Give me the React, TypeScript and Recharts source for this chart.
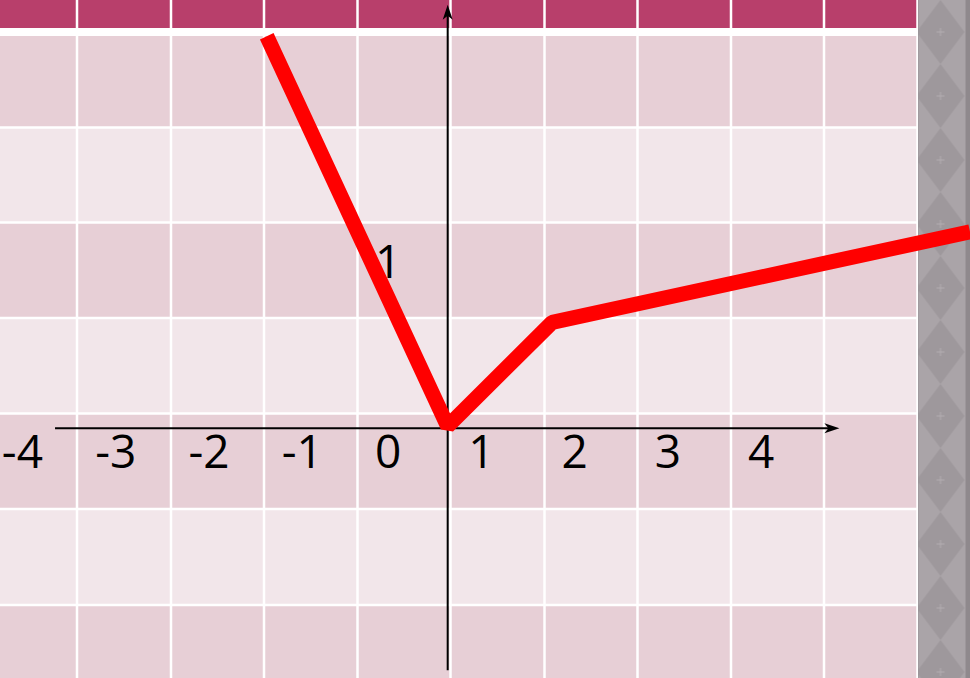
import { LineChart, Line, XAxis, YAxis, CartesianGrid, ReferenceLine, ReferenceDot, ReferenceArea } from 'recharts'

// red polyline, in axis units
const lineX = [-1.94, 0, 1.12, 5.6]
const lineY = [4.11, 0.02, 1.11, 2.06]

// labels along the x axis
const xTickValues = [-4, -3, -2, -1, 0, 1, 2, 3, 4]
const xTickLabels = ['-4', '-3', '-2', '-1', '0', '1', '2', '3', '4']

// the lone label next to the y axis
const yTickValues = [1.99]
const yTickLabels = ['1']

const X_MIN = -4.8
const X_MAX = 5.6
const Y_MIN = -2.62
const Y_MAX = 4.49

const W = 970
const H = 678

const LABEL_SHIFT = -0.78
const STRIP_START = 5.043

// background layout (pixels)
const ROW_EDGES = [0, 28, 36, 127.5, 222.5, 318, 413.5, 509, 605]
const ROW_FILLS = ['#b83f6b', '#ffffff', '#e7cfd6', '#f2e6ea', '#e7cfd6', '#f2e6ea', '#e7cfd6', '#f2e6ea', '#e7cfd6']
const ROW_LINES = [127.5, 222.5, 318, 413.5, 509, 605]
const COL_LINES = [77, 171, 264, 357.5, 450.5, 544.5, 637.5, 731, 824, 917.5]

const data = lineX.map((x, i) => ({ x, y: lineY[i] }))

const font = "'Open Sans', 'DejaVu Sans', sans-serif"

const labelShape = (text: string) => (p: any) => (
  <text x={p.cx} y={p.cy + 40} fontFamily={font} fontSize={46} fill="#000" textAnchor="start">
    {text}
  </text>
)

const upArrow = (p: any) => (
  <path
    d={`M${p.cx},${p.cy} L${p.cx - 5},${p.cy + 15} L${p.cx},${p.cy + 11} L${p.cx + 5},${p.cy + 15} Z`}
    fill="#000"
  />
)

const rightArrow = (p: any) => (
  <path
    d={`M${p.cx},${p.cy} L${p.cx - 15},${p.cy - 5} L${p.cx - 11},${p.cy} L${p.cx - 15},${p.cy + 5} Z`}
    fill="#000"
  />
)

export default function App() {
  return (
    <div style={{ width: W, height: H }}>
      <style>{'body{margin:0}'}</style>
      <LineChart width={W} height={H} data={data} margin={{ top: 0, right: 0, bottom: 0, left: 0 }}>
        <defs>
          <pattern id="diamonds" patternUnits="userSpaceOnUse" x={918.5} y={0} width={52} height={64}>
            <rect x={0} y={0} width={52} height={64} fill="#aaa4a8" />
            <polygon points="22,0 46,32 22,64 -2,32" fill="#9e989c" />
            <path d="M22,28 L22,36 M18,32 L26,32" stroke="#b3adb1" strokeWidth={1} />
            <rect x={47} y={0} width={5} height={64} fill="#8f898d" />
          </pattern>
        </defs>
        <XAxis dataKey="x" type="number" domain={[X_MIN, X_MAX]} allowDataOverflow hide />
        <YAxis type="number" domain={[Y_MIN, Y_MAX]} allowDataOverflow hide />
        <CartesianGrid
          horizontalPoints={ROW_EDGES}
          verticalPoints={[]}
          horizontalFill={ROW_FILLS}
          fillOpacity={1}
          stroke="none"
        />
        <CartesianGrid
          horizontalPoints={ROW_LINES}
          verticalPoints={COL_LINES}
          stroke="#ffffff"
          strokeWidth={2.5}
        />
        <ReferenceArea
          x1={STRIP_START}
          x2={X_MAX}
          y1={Y_MIN}
          y2={Y_MAX}
          fill="url(#diamonds)"
          fillOpacity={1}
          stroke="none"
        />

        {/* axes */}
        <ReferenceLine segment={[{ x: -4.21, y: 0 }, { x: 4.1, y: 0 }]} stroke="#000" strokeWidth={2} />
        <ReferenceLine segment={[{ x: 0, y: -2.54 }, { x: 0, y: 4.35 }]} stroke="#000" strokeWidth={2} />
        <ReferenceDot x={4.2} y={0} shape={rightArrow} />
        <ReferenceDot x={0} y={4.44} shape={upArrow} />

        {xTickValues.map((v, i) => (
          <ReferenceDot key={'xt' + v} x={v + LABEL_SHIFT} y={0} shape={labelShape(xTickLabels[i])} />
        ))}
        {yTickValues.map((v, i) => (
          <ReferenceDot key={'yt' + i} x={LABEL_SHIFT} y={v} shape={labelShape(yTickLabels[i])} />
        ))}

        <Line
          type="linear"
          dataKey="y"
          stroke="#ff0000"
          strokeWidth={15}
          strokeLinejoin="bevel"
          strokeLinecap="butt"
          dot={false}
          activeDot={false}
          isAnimationActive={false}
        />
      </LineChart>
    </div>
  )
}
